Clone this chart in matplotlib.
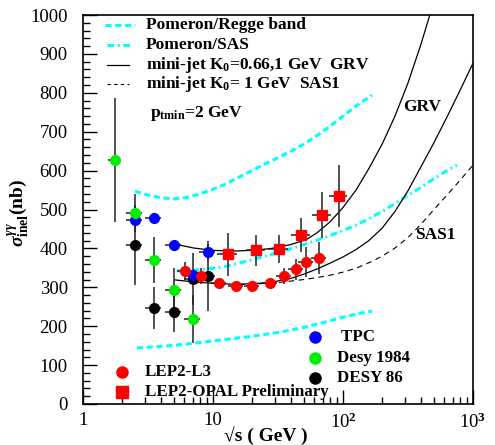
import matplotlib
matplotlib.use("Agg")
import matplotlib.pyplot as plt
from matplotlib.ticker import MultipleLocator, FixedLocator, NullFormatter

plt.rcParams['font.family'] = ['Liberation Serif', 'DejaVu Serif']
plt.rcParams['font.weight'] = 'bold'
plt.rcParams['mathtext.fontset'] = 'custom'
plt.rcParams['mathtext.rm'] = 'Liberation Serif:bold'
plt.rcParams['mathtext.it'] = 'Liberation Serif:italic:bold'
plt.rcParams['mathtext.bf'] = 'Liberation Serif:bold'

# ---- data points ----
tpc_x = [2.5, 3.5, 5.0, 7.0, 9.1]
tpc_y = [473, 478, 409, 332, 391]
tpc_xerr = [0.35, 0.5, 0.7, 1.0, 1.3]
tpc_yerr = [10, 8, 8, 10, 20]

desy84_x = [1.76, 2.5, 3.5, 5.0, 7.0]
desy84_y = [627, 491, 370, 293, 218]
desy84_xerr = [0.2, 0.35, 0.5, 0.7, 1.0]
desy84_yerr = [160, 50, 60, 57, 61]

desy86_x = [2.5, 3.5, 5.0, 7.0, 9.1]
desy86_y = [409, 247, 236, 321, 329]
desy86_xerr = [0.35, 0.5, 0.7, 1.0, 1.3]
desy86_yerr = [103, 53, 50, 67, 90]

l3_x = [6.1, 8.1, 11.1, 15.0, 20.0, 27.4, 35.2, 43.5, 51.9, 65.3]
l3_y = [342, 329, 311, 303, 303, 311, 329, 347, 365, 375]
l3_xerr = [0.8, 1.0, 1.4, 1.9, 2.6, 3.5, 4.5, 5.5, 6.6, 8.3]
l3_yerr = [22, 20, 12, 10, 10, 13, 21, 27, 38, 42]

opal_x = [13.0, 21.4, 32.2, 47.5, 68.9, 93.0]
opal_y = [385, 395, 398, 434, 486, 535]
opal_xerr = [2.2, 3.6, 5.5, 8.0, 11.5, 15.0]
opal_yerr = [55, 40, 36, 44, 58, 80]

# ---- model curves ----
regge_hi_x = [2.51, 3.16, 3.98, 5.0, 6.3, 7.9, 10, 12.6, 15.8, 20, 25.1, 31.6, 39.8, 50.1, 63.1, 79.4, 100, 126, 167]
regge_hi_y = [547, 537, 530, 527, 531, 540, 552, 566, 583, 600, 617, 633, 650, 668, 690, 714, 740, 766, 794]
regge_lo_x = [2.6, 3.16, 3.98, 5.0, 6.3, 7.9, 10, 12.6, 15.8, 20, 25.1, 31.6, 39.8, 50.1, 63.1, 79.4, 100, 126, 167]
regge_lo_y = [144, 146, 148, 151, 154, 158, 162, 166, 170, 174, 179, 184, 190, 197, 205, 214, 223, 231, 239]

sas_x = [5.25, 7.1, 10, 12.6, 15.8, 20, 25.1, 31.6, 39.8, 50.1, 63.1, 79.4, 100, 126, 158, 200, 251, 316, 398, 501, 631, 753]
sas_y = [342, 344, 349, 354, 362, 371, 380, 389, 399, 410, 421, 433, 446, 460, 476, 495, 515, 536, 557, 579, 600, 614]

grv_hi_x = [5.1, 7.1, 10, 14.1, 20, 28.2, 39.8, 52.5, 63, 79.4, 100, 126, 158, 200, 251, 316, 398, 480]
grv_hi_y = [411, 401, 395, 393, 395, 400, 410, 423, 440, 468, 505, 550, 605, 668, 740, 825, 925, 1015]
grv_lo_x = [5.1, 7.1, 10, 14.1, 20, 28.2, 39.8, 50.1, 63.1, 79.4, 100, 126, 158, 200, 251, 316, 398, 501, 631, 794, 1000]
grv_lo_y = [319, 314, 310, 308, 309, 313, 323, 334, 347, 362, 378, 397, 420, 452, 495, 548, 610, 672, 738, 806, 876]

sas1_x = [15.8, 20, 25.1, 31.6, 39.8, 50.1, 63.1, 79.4, 100, 126, 158, 200, 251, 316, 398, 501, 631, 794, 1000]
sas1_y = [307, 308, 310, 312, 316, 320, 325, 331, 339, 349, 363, 380, 401, 428, 462, 500, 537, 575, 614]

fig = plt.figure(figsize=(4.95, 4.45), dpi=100)
ax = fig.add_axes([83 / 495, 1 - 404 / 445, 390 / 495, 389 / 445])

cyan = '#00ffff'
dash = (0, (2, 1.2))
dashdot = (0, (2.2, 1.2, 0.6, 1.2))
ax.plot(regge_hi_x, regge_hi_y, color=cyan, lw=2.2, ls=dash)
ax.plot(regge_lo_x, regge_lo_y, color=cyan, lw=2.2, ls=dash)
ax.plot(sas_x, sas_y, color=cyan, lw=2.2, ls=dashdot)
ax.plot(grv_hi_x, grv_hi_y, color='k', lw=0.9)
ax.plot(grv_lo_x, grv_lo_y, color='k', lw=0.9)
ax.plot(sas1_x, sas1_y, color='k', lw=0.8, ls=(0, (5, 4)))

eb = dict(fmt='o', ecolor='#222222', elinewidth=1.1, capsize=0, ms=7)
ax.errorbar(desy86_x, desy86_y, xerr=desy86_xerr, yerr=desy86_yerr, color='k', **eb)
ax.errorbar(tpc_x, tpc_y, xerr=tpc_xerr, yerr=tpc_yerr, color='#0000ff', **eb)
ax.errorbar(desy84_x, desy84_y, xerr=desy84_xerr, yerr=desy84_yerr, color='#00ee00', **eb)
ax.errorbar(l3_x, l3_y, xerr=l3_xerr, yerr=l3_yerr, color='#ff0000', **eb)
eb['fmt'] = 's'
ax.errorbar(opal_x, opal_y, xerr=opal_xerr, yerr=opal_yerr, color='#ff0000', **eb)

ax.set_xscale('log')
ax.set_xlim(1, 1000)
ax.set_ylim(0, 1000)

fs = 12.5
# legend for the curves (top left)
tr = ax.transAxes
rows = [0.974, 0.923, 0.871, 0.822]
ax.plot([0.056, 0.133], [rows[0]] * 2, transform=tr, color=cyan, lw=2.2, ls=dash)
ax.plot([0.062, 0.125], [rows[1]] * 2, transform=tr, color=cyan, lw=2.2, ls=dashdot)
ax.plot([0.062, 0.118], [rows[2]] * 2, transform=tr, color='k', lw=0.9)
ax.plot([0.062, 0.118], [rows[3]] * 2, transform=tr, color='k', lw=0.8, ls=(0, (3, 3)))
labels = ['Pomeron/Regge band', 'Pomeron/SAS',
          r'mini-jet K$_{0}$=0.66,1 GeV  GRV', r'mini-jet K$_{0}$= 1 GeV  SAS1']
for r, t in zip(rows, labels):
    ax.text(0.162, r, t, transform=tr, fontsize=fs, va='center', ha='left')
ax.text(0.172, 0.748, r'p$_{\rm tmin}$=2 GeV', transform=tr, fontsize=fs, va='center')

ax.text(405, 763, 'GRV', fontsize=fs, ha='center', va='center')
ax.text(510, 434, 'SAS1', fontsize=fs, ha='center', va='center')

# marker legends
mk = [(0.595, 0.172, 'o', '#0000ff', ' TPC'),
      (0.595, 0.118, 'o', '#00ee00', 'Desy 1984'),
      (0.595, 0.067, 'o', 'k', 'DESY 86'),
      (0.100, 0.082, 'o', '#ff0000', 'LEP2-L3'),
      (0.100, 0.031, 's', '#ff0000', 'LEP2-OPAL Preliminary')]
for xm, ym, m, c, t in mk:
    ax.plot([xm], [ym], marker=m, color=c, ms=8, transform=tr, ls='none')
    tx = 0.651 if xm > 0.5 else 0.159
    ax.text(tx, ym, t, transform=tr, fontsize=12.2, va='center', ha='left')

# axes styling
ax.xaxis.set_major_locator(FixedLocator([1, 10, 100, 1000]))
ax.set_xticklabels(['1', '10', r'10$^{2}$', r'10$^{3}$'])
ax.xaxis.set_minor_locator(FixedLocator([m * d for d in [1, 10, 100] for m in range(2, 10)]))
ax.xaxis.set_minor_formatter(NullFormatter())
ax.yaxis.set_major_locator(MultipleLocator(100))
ax.yaxis.set_minor_locator(MultipleLocator(20))
ax.tick_params(which='both', direction='in', top=False, right=False, width=1)
ax.tick_params(which='major', length=10, labelsize=13.5)
ax.tick_params(which='minor', length=5)
ax.tick_params(axis='x', which='major', pad=6)
ax.tick_params(axis='y', which='major', pad=11)
for s in ax.spines.values():
    s.set_linewidth(1.2)
for lab in ax.get_xticklabels() + ax.get_yticklabels():
    lab.set_fontweight('normal')

ax.set_xlabel('\u221as ( GeV )', fontsize=14, fontweight='bold')
ax.xaxis.set_label_coords(0.47, -0.056)
ax.set_ylabel(r'$\sigma^{\gamma\gamma}_{\rm inel}$(nb)', fontsize=14, fontweight='bold')
ax.yaxis.set_label_coords(-0.133, 0.49)

fig.savefig('out.png', dpi=100)
